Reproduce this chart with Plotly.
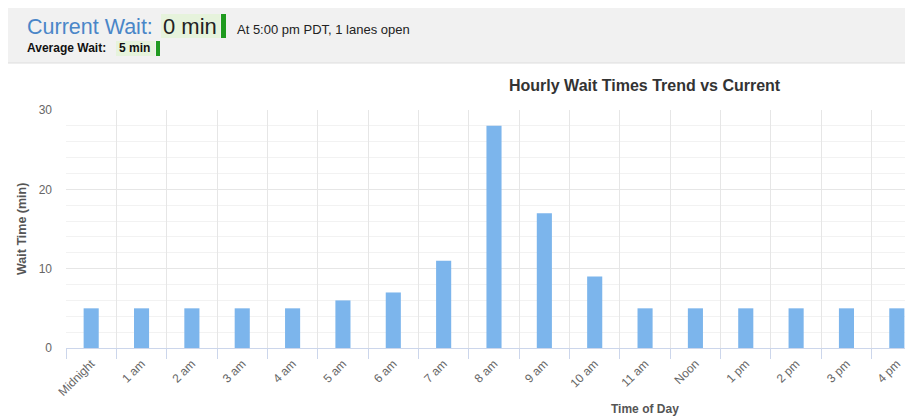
import plotly.graph_objects as go

categories = ["Midnight", "1 am", "2 am", "3 am", "4 am", "5 am", "6 am", "7 am", "8 am",
              "9 am", "10 am", "11 am", "Noon", "1 pm", "2 pm", "3 pm", "4 pm"]
wait_minutes = [5, 5, 5, 5, 5, 6, 7, 11, 28, 17, 9, 5, 5, 5, 5, 5, 5]
y_ticks = [0, 10, 20, 30]

# page body adds an 8px margin; design in reference pixels then shift.
# The reference plot area runs past the right edge of the window (to ~922px).
OFF = 8
W, H = 923 - OFF, 418 - OFF
L, R, T, B = 66 - OFF, 1, 110 - OFF, 418 - 348
PW, PH = W - L - R, H - T - B


def px(x):
    return (x - OFF - L) / PW


def py(y):
    return (H - B - (y - OFF)) / PH


FONT = "Liberation Sans, Arial, sans-serif"

fig = go.Figure(go.Bar(x=categories, y=wait_minutes, marker=dict(color="#7cb5ec", line=dict(width=0)),
                       width=0.3))

shapes = [
    dict(type="rect", xref="paper", yref="paper", x0=px(0), x1=px(923), y0=py(63), y1=py(7),
         fillcolor="#f1f1f1", line=dict(width=0), layer="below"),
    dict(type="line", xref="paper", yref="paper", x0=px(0), x1=px(923), y0=py(63), y1=py(63),
         line=dict(color="#dddddd", width=1)),
    dict(type="rect", xref="paper", yref="paper", x0=px(161), x1=px(220), y0=py(38), y1=py(14),
         fillcolor="#e6f3dc", line=dict(width=0)),
    dict(type="rect", xref="paper", yref="paper", x0=px(221), x1=px(226), y0=py(38), y1=py(14),
         fillcolor="#1f9a1f", line=dict(width=0)),
    dict(type="rect", xref="paper", yref="paper", x0=px(116), x1=px(155), y0=py(56), y1=py(41),
         fillcolor="#e6f3dc", line=dict(width=0)),
    dict(type="rect", xref="paper", yref="paper", x0=px(156), x1=px(160), y0=py(56), y1=py(41),
         fillcolor="#1f9a1f", line=dict(width=0)),
]

annotations = [
    dict(text="Current Wait:", x=px(25), y=py(27), xref="paper", yref="paper", xanchor="left",
         yanchor="middle", showarrow=False, font=dict(family=FONT, size=21.5, color="#4a86c8")),
    dict(text="0 min", x=px(161), y=py(27), xref="paper", yref="paper", xanchor="left",
         yanchor="middle", showarrow=False, font=dict(family=FONT, size=22, color="#222222")),
    dict(text="At 5:00 pm PDT, 1 lanes open", x=px(235), y=py(29), xref="paper", yref="paper",
         xanchor="left", yanchor="middle", showarrow=False,
         font=dict(family=FONT, size=13, color="#222222")),
    dict(text="<b>Average Wait:</b>", x=px(25), y=py(48), xref="paper", yref="paper",
         xanchor="left", yanchor="middle", showarrow=False,
         font=dict(family=FONT, size=12, color="#111111")),
    dict(text="<b>5 min</b>", x=px(117), y=py(48), xref="paper", yref="paper",
         xanchor="left", yanchor="middle", showarrow=False,
         font=dict(family=FONT, size=12, color="#111111")),
    dict(text="<b>Hourly Wait Times Trend vs Current</b>", x=px(645), y=py(86), xref="paper",
         yref="paper", xanchor="center", yanchor="middle", showarrow=False,
         font=dict(family=FONT, size=16, color="#333333")),
    dict(text="<b>Time of Day</b>", x=px(645), y=py(409), xref="paper", yref="paper",
         xanchor="center", yanchor="middle", showarrow=False,
         font=dict(family=FONT, size=12, color="#555555")),
    dict(text="<b>Wait Time (min)</b>", x=px(22), y=0.5, xref="paper", yref="paper",
         xanchor="center", yanchor="middle", showarrow=False, textangle=-90,
         font=dict(family=FONT, size=12.5, color="#555555")),
]

fig.update_layout(
    width=W, height=H,
    margin=dict(l=L, r=R, t=T, b=B, autoexpand=False),
    paper_bgcolor="white", plot_bgcolor="white",
    showlegend=False,
    bargap=0.7,
    shapes=shapes,
    annotations=annotations,
    font=dict(family=FONT),
    xaxis=dict(
        type="category", tickson="boundaries", ticks="outside", ticklen=10,
        tickcolor="#ccd6eb", showgrid=True, gridcolor="#e6e6e6", gridwidth=1,
        showline=True, linecolor="#ccd6eb", linewidth=1, tickangle=-45,
        ticklabelstandoff=3,
        tickfont=dict(family=FONT, size=12, color="#666666"), zeroline=False,
        range=[-0.5, len(categories) - 0.5], automargin=False,
    ),
    yaxis=dict(
        range=[0, 30], tickvals=y_ticks, showgrid=True, gridcolor="#e6e6e6", gridwidth=1,
        zeroline=False, showline=False, ticks="", ticklabelstandoff=13,
        tickfont=dict(family=FONT, size=12, color="#666666"), automargin=False,
        minor=dict(dtick=2, showgrid=True, gridcolor="#f2f2f2", gridwidth=1),
    ),
)

fig.write_html("out.html")
